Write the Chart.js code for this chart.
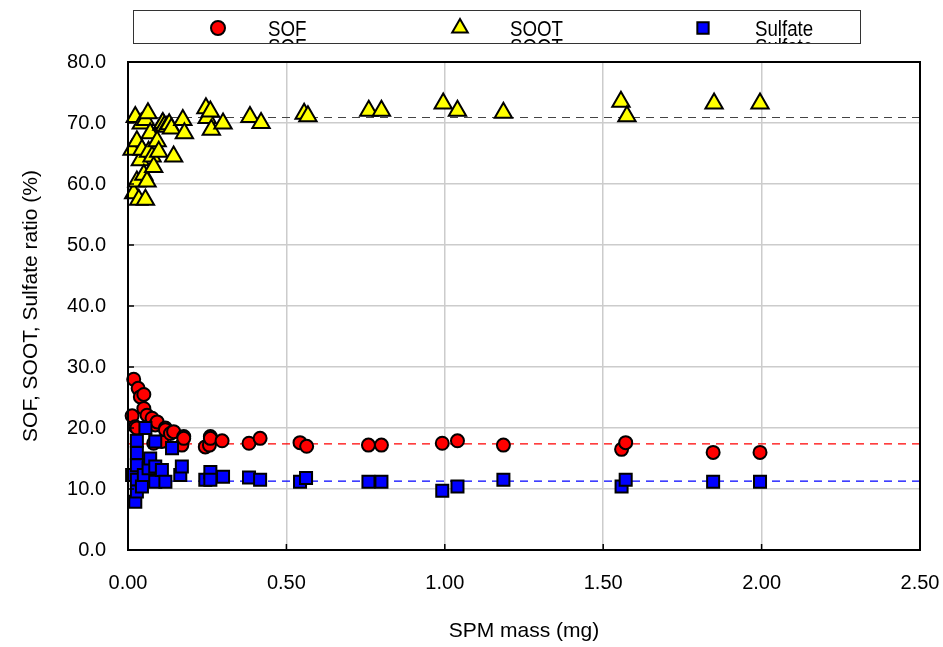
<!doctype html>
<html>
<head>
<meta charset="UTF-8" />
<script src="https://cdn.jsdelivr.net/npm/chart.js"></script>
<style>
  html, body { margin: 0; padding: 0; background: #fff; }
  #wrap { width: 943px; height: 647px; }
</style>
</head>
<body>
<div id="wrap"><canvas id="chart"></canvas></div>
<script>
// values
const sofMass = [0.013, 0.018, 0.023, 0.028, 0.032, 0.039, 0.05, 0.05, 0.06, 0.076, 0.081, 0.086, 0.092, 0.107, 0.118, 0.118, 0.134, 0.144, 0.17, 0.176, 0.176,
                 0.244, 0.257, 0.26, 0.26, 0.297, 0.382, 0.417, 0.543, 0.564, 0.759, 0.80, 0.992, 1.04, 1.185, 1.558, 1.571, 1.847, 1.995];
const sofRatio = [22.0, 28.0, 20.2, 20.0, 26.5, 25.1, 25.5, 23.2, 22.1, 21.6, 17.5, 20.5, 21.0, 17.8, 20.0, 19.7, 19.1, 19.4, 17.2, 18.6, 18.3,
                  16.9, 17.2, 18.6, 18.3, 17.9, 17.5, 18.3, 17.6, 17.0, 17.2, 17.2, 17.5, 17.9, 17.2, 16.5, 17.6, 16.0, 16.0];

const sootMass = [0.013, 0.018, 0.023, 0.028, 0.028, 0.034, 0.039, 0.042, 0.044, 0.05, 0.055, 0.055, 0.06, 0.063, 0.065, 0.07, 0.076, 0.081, 0.092, 0.097,
                  0.107, 0.11, 0.115, 0.123, 0.13, 0.137, 0.144, 0.173, 0.178, 0.246, 0.25, 0.26, 0.263, 0.30, 0.385, 0.42,
                  0.556, 0.568, 0.76, 0.80, 0.995, 1.04, 1.185, 1.556, 1.575, 1.85, 1.995];
const sootRatio = [65.6, 58.5, 71.0, 67.0, 60.4, 57.4, 63.9, 69.9, 65.6, 61.5, 70.5, 57.4, 60.4, 71.6, 65.3, 68.3, 64.5, 62.8, 67.0, 65.3,
                   69.7, 70.0, 69.5, 69.4, 69.8, 69.1, 64.5, 70.5, 68.3, 72.4, 70.8, 71.9, 68.9, 69.9, 71.0, 70.0,
                   71.5, 71.1, 72.0, 72.0, 73.2, 72.0, 71.7, 73.5, 71.1, 73.2, 73.2];

const sulfateMass = [0.013, 0.023, 0.028, 0.028, 0.028, 0.028, 0.028, 0.044, 0.05, 0.055, 0.065, 0.07, 0.086, 0.086, 0.086, 0.107, 0.118, 0.139, 0.165, 0.17,
                     0.244, 0.26, 0.26, 0.30, 0.382, 0.417, 0.543, 0.562, 0.759, 0.80, 0.992, 1.04, 1.185, 1.558, 1.571, 1.847, 1.995];
const sulfateRatio = [12.3, 7.9, 17.9, 15.9, 13.9, 11.5, 9.6, 10.4, 12.3, 20.0, 13.4, 15.0, 17.8, 13.7, 11.2, 13.1, 11.2, 16.7, 12.3, 13.7,
                      11.5, 12.8, 11.5, 12.0, 11.9, 11.5, 11.2, 11.8, 11.2, 11.2, 9.7, 10.4, 11.5, 10.4, 11.5, 11.2, 11.2];

// average lines
const avgRange = [0, 2.5];
const sofAvg = 17.4;
const sootAvg = 70.9;
const sulfateAvg = 11.3;

const xTicks = [0, 0.5, 1.0, 1.5, 2.0, 2.5];
const yTicks = [0, 10, 20, 30, 40, 50, 60, 70, 80];

const legendItems = [
    { label: "SOF", style: "circle", color: "#ff0000" },
    { label: "SOOT", style: "triangle", color: "#ffff00" },
    { label: "Sulfate", style: "rect", color: "#0000ff" },
];

const FONT = "'Liberation Sans', Arial, sans-serif";

const pts = (xs, ys) => xs.map((x, i) => ({ x: x, y: ys[i] }));
const flat = (v) => avgRange.map((x) => ({ x: x, y: v }));

// box around the plot + inward ticks on left and bottom
const frame = {
    id: "frame",
    afterDraw(chart) {
        const { ctx, chartArea: a, scales } = chart;
        ctx.save();
        ctx.strokeStyle = "#000";
        ctx.lineWidth = 2;
        ctx.strokeRect(a.left, a.top, a.right - a.left, a.bottom - a.top);
        ctx.lineWidth = 1.5;
        ctx.beginPath();
        yTicks.forEach((v) => {
            const y = scales.y.getPixelForValue(v);
            ctx.moveTo(a.left, y);
            ctx.lineTo(a.left + 6, y);
        });
        xTicks.forEach((v) => {
            const x = scales.x.getPixelForValue(v);
            ctx.moveTo(x, a.bottom);
            ctx.lineTo(x, a.bottom - 6);
        });
        ctx.stroke();
        ctx.restore();
    },
};

// boxed legend strip on top (the text shows twice, the second copy cut by the box)
const topLegend = {
    id: "topLegend",
    afterDraw(chart) {
        const ctx = chart.ctx;
        const box = { l: 133, t: 10, r: 860, b: 43 };
        const markX = [218, 460, 703];
        const textX = [268, 510, 755];
        const radius = { circle: 7, triangle: 9, rect: 8 };
        ctx.save();
        ctx.fillStyle = "#fff";
        ctx.fillRect(box.l, box.t, box.r - box.l, box.b - box.t);
        ctx.strokeStyle = "#333";
        ctx.lineWidth = 1;
        ctx.strokeRect(box.l + 0.5, box.t + 0.5, box.r - box.l, box.b - box.t);
        ctx.beginPath();
        ctx.rect(box.l + 1, box.t + 1, box.r - box.l - 1, box.b - box.t - 1);
        ctx.clip();
        legendItems.forEach((it, i) => {
            ctx.fillStyle = it.color;
            ctx.strokeStyle = "#000";
            ctx.lineWidth = 2;
            Chart.helpers.drawPoint(ctx, { pointStyle: it.style, radius: radius[it.style], borderWidth: 2, rotation: 0 }, markX[i], 28);
            ctx.fillStyle = "#000";
            ctx.font = "22px " + FONT;
            ctx.textBaseline = "alphabetic";
            ctx.save();
            ctx.translate(textX[i], 0);
            ctx.scale(0.85, 1);
            ctx.fillText(it.label, 0, 36);
            ctx.fillText(it.label, 0, 54);
            ctx.restore();
        });
        ctx.restore();
    },
};

const marker = (style, color, r) => ({
    pointStyle: style,
    backgroundColor: color,
    borderColor: "#000",
    borderWidth: 2,
    pointRadius: r,
    pointHoverRadius: r,
    showLine: false,
    clip: false,
});

const avgLine = (data, color) => ({
    data: data,
    type: "line",
    borderColor: color,
    borderWidth: 1.2,
    borderDash: [8, 6],
    pointRadius: 0,
    fill: false,
    order: 10,
});

new Chart(document.getElementById("chart"), {
    type: "scatter",
    data: {
        datasets: [
            avgLine(flat(sootAvg), "#444"),
            avgLine(flat(sofAvg), "#ff0000"),
            avgLine(flat(sulfateAvg), "#0000ff"),
            Object.assign({ label: "SOF", data: pts(sofMass, sofRatio), order: 3 }, marker("circle", "#ff0000", 6.5)),
            Object.assign({ label: "SOOT", data: pts(sootMass, sootRatio), order: 2 }, marker("triangle", "#ffff00", 10)),
            Object.assign({ label: "Sulfate", data: pts(sulfateMass, sulfateRatio), order: 1 }, marker("rect", "#0000ff", 8.5)),
        ],
    },
    options: {
        responsive: true,
        maintainAspectRatio: false,
        animation: false,
        events: [],
        layout: { padding: { top: 62, right: 23, left: 0, bottom: 0 } },
        plugins: { legend: { display: false }, tooltip: { enabled: false } },
        scales: {
            x: {
                type: "linear",
                min: 0,
                max: 2.5,
                afterBuildTicks: (s) => { s.ticks = xTicks.map((v) => ({ value: v })); },
                afterFit: (s) => { s.height = 97; s.paddingLeft = 0; s.paddingRight = 0; },
                grid: { color: "#cccccc", lineWidth: 1.5, drawTicks: false },
                border: { display: false },
                ticks: { padding: 21, color: "#000", font: { family: FONT, size: 20 }, callback: (v) => Number(v).toFixed(2), maxRotation: 0 },
                title: { display: true, text: "SPM mass (mg)", color: "#000", font: { family: FONT, size: 21 }, padding: { top: 0, bottom: 3 } },
            },
            y: {
                type: "linear",
                min: 0,
                max: 80,
                afterBuildTicks: (s) => { s.ticks = yTicks.map((v) => ({ value: v })); },
                afterFit: (s) => { s.width = 128; },
                grid: { color: "#cccccc", lineWidth: 1.5, drawTicks: false },
                border: { display: false },
                ticks: { padding: 22, color: "#000", font: { family: FONT, size: 20 }, callback: (v) => Number(v).toFixed(1) },
                title: { display: true, text: "SOF, SOOT, Sulfate ratio (%)", color: "#000", font: { family: FONT, size: 21 }, padding: { top: 19, bottom: 0 } },
            },
        },
    },
    plugins: [frame, topLegend],
});
</script>
</body>
</html>
